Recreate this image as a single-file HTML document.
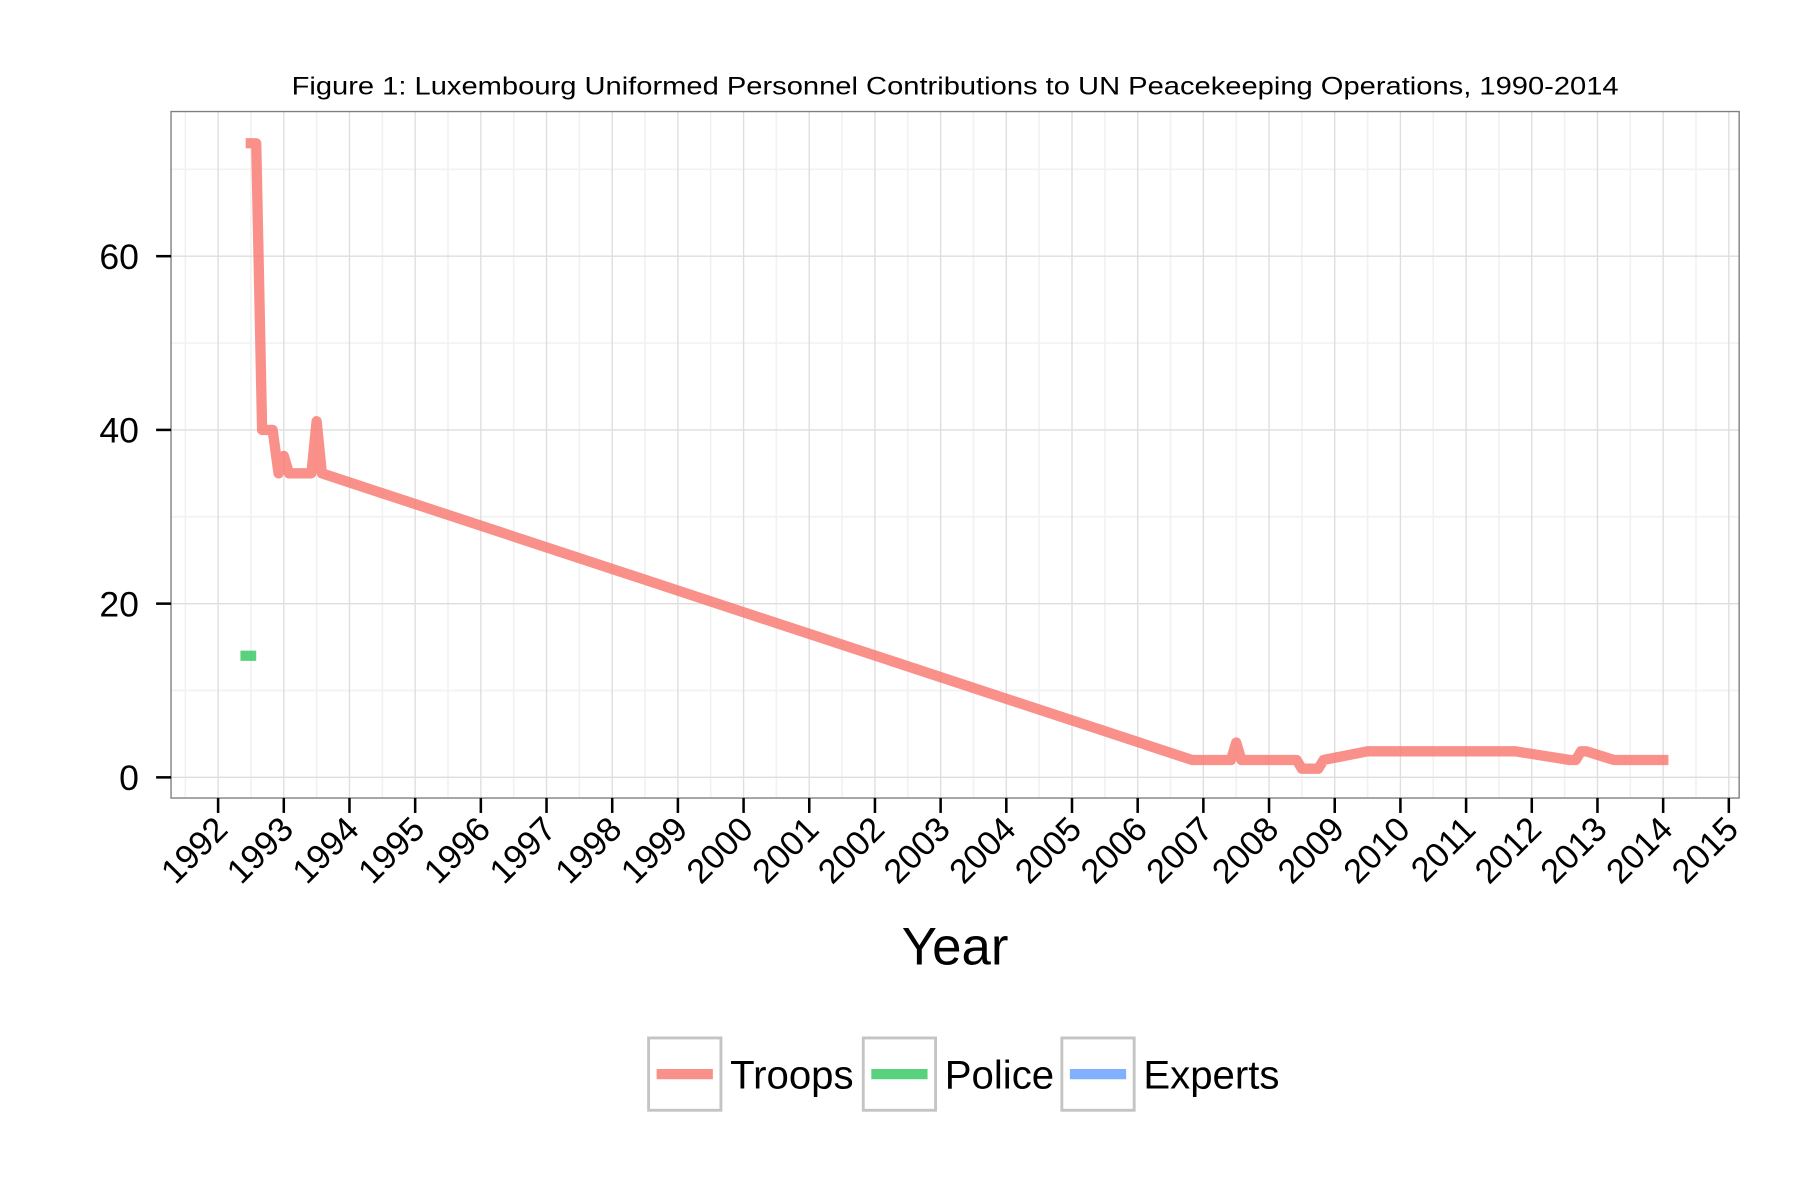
<!DOCTYPE html>
<html><head><meta charset="utf-8"><style>
html,body{margin:0;padding:0;background:#fff}
svg{display:block;font-family:"Liberation Sans",Arial,sans-serif}
</style></head><body>
<svg id="chart" width="1800" height="1200" viewBox="0 0 1568 1045" xmlns="http://www.w3.org/2000/svg">
<rect width="1568" height="1045" fill="#fff"/>
<text x="832" y="82" font-size="22" text-anchor="middle" textLength="1156" lengthAdjust="spacingAndGlyphs">Figure 1: Luxembourg Uniformed Personnel Contributions to UN Peacekeeping Operations, 1990-2014</text>
<g id="grid"></g>
<g id="series"></g>
<rect x="149" y="97" width="1366" height="598" fill="none" stroke="#7f7f7f" stroke-width="1.2"/>
<g id="axes"></g>
<text x="832" y="840" font-size="46" text-anchor="middle">Year</text>
<g>
<rect x="565" y="904" width="63" height="63" fill="#fff" stroke="#c4c4c4" stroke-width="2.5"/>
<line x1="572" y1="935.5" x2="621" y2="935.5" stroke="#F8766D" stroke-opacity="0.8" stroke-width="9"/>
<text x="636" y="948" font-size="35">Troops</text>
<rect x="752" y="904" width="63" height="63" fill="#fff" stroke="#c4c4c4" stroke-width="2.5"/>
<line x1="759" y1="935.5" x2="808" y2="935.5" stroke="#00BA38" stroke-opacity="0.65" stroke-width="9"/>
<text x="823" y="948" font-size="35">Police</text>
<rect x="925" y="904" width="63" height="63" fill="#fff" stroke="#c4c4c4" stroke-width="2.5"/>
<line x1="932" y1="935.5" x2="981" y2="935.5" stroke="#619CFF" stroke-opacity="0.8" stroke-width="9"/>
<text x="996" y="948" font-size="35">Experts</text>
</g>
</svg>
<script>
const troopYears = [1992.42,1992.58,1992.67,1992.83,1992.92,1993.0,1993.08,1993.42,1993.5,1993.58,2006.83,2007.42,2007.5,2007.58,2008.42,2008.5,2008.75,2008.83,2009.5,2011.75,2012.58,2012.67,2012.75,2012.83,2013.25,2014.08];
const troopValues = [73,73,40,40,35,37,35,35,41,35,2,2,4,2,2,1,1,2,3,3,2,2,3,3,2,2];
const policeYears = [1992.34,1992.58];
const policeValues = [14,14];
const xTickYears = [1992,1993,1994,1995,1996,1997,1998,1999,2000,2001,2002,2003,2004,2005,2006,2007,2008,2009,2010,2011,2012,2013,2014,2015];
const yTickValues = [0,20,40,60];
const yMinorValues = [10,30,50,70];

const NS = "http://www.w3.org/2000/svg";
const X = y => 190 + (y - 1992) * (1506 - 190) / 23;
const Y = v => 677 - v * (677 - 223) / 60;
function mk(tag, attrs, parent){ const e=document.createElementNS(NS,tag); for(const k in attrs) e.setAttribute(k,attrs[k]); parent.appendChild(e); return e; }
const grid=document.getElementById('grid'), axes=document.getElementById('axes'), series=document.getElementById('series');
mk('rect',{x:149,y:97,width:1366,height:598,fill:'#fff'},grid);
yMinorValues.forEach(v=>{ const l=mk('line',{x1:149,x2:1515,y1:Y(v),y2:Y(v),stroke:'#f2f2f2','stroke-width':1.5},grid);

 });
xTickYears.concat([2016]).forEach(yr=>{ const m=yr-0.5; if(X(m)>149 && X(m)<1515){ const l=mk('line',{x1:X(m),x2:X(m),y1:97,y2:695,stroke:'#f2f2f2','stroke-width':1.5},grid);

 } });
yTickValues.forEach(v=>{ const l=mk('line',{x1:149,x2:1515,y1:Y(v),y2:Y(v),stroke:'#dedede','stroke-width':1.2},grid);


const t=mk('line',{x1:136,x2:149,y1:Y(v),y2:Y(v),stroke:'#000','stroke-width':2.2},axes);


const tx=mk('text',{x:121,y:Y(v)+11,'font-size':31,'text-anchor':'end'},axes); tx.textContent=v;

 });
xTickYears.forEach(yr=>{ const x=X(yr);
const l=mk('line',{x1:x,x2:x,y1:97,y2:695,stroke:'#dedede','stroke-width':1.2},grid);


const t=mk('line',{x1:x,x2:x,y1:695,y2:708,stroke:'#000','stroke-width':2.2},axes);


const tx=mk('text',{x:x+10,y:724,'font-size':30,'text-anchor':'end',transform:`rotate(-45 ${x+10} 724)`},axes); tx.textContent=yr;

 });
const tp=mk('polyline',{points:troopYears.map((y,i)=>X(y)+','+Y(troopValues[i])).join(' '),fill:'none',stroke:'#F8766D','stroke-opacity':0.8,'stroke-width':9,'stroke-linejoin':'round'},series);


const pp=mk('polyline',{points:policeYears.map((y,i)=>X(y)+','+Y(policeValues[i])).join(' '),fill:'none',stroke:'#00BA38','stroke-opacity':0.65,'stroke-width':9},series);


</script>
</body></html>
